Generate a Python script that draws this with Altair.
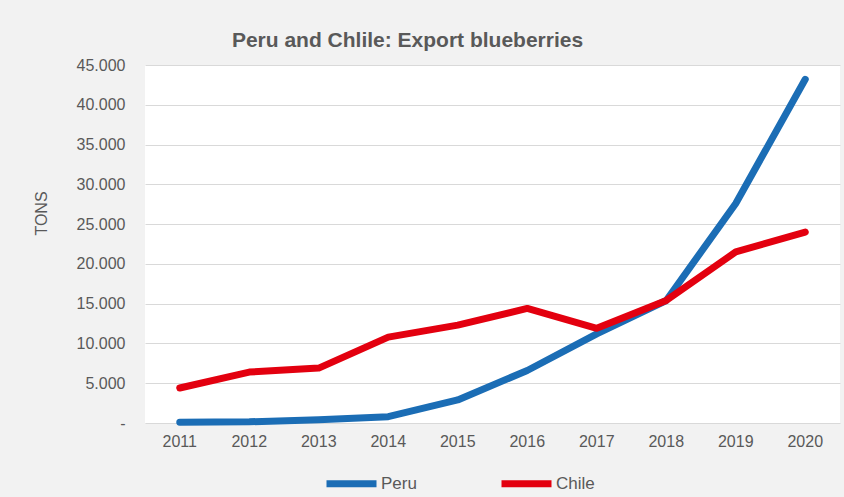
import altair as alt
import pandas as pd

years = ["2011", "2012", "2013", "2014", "2015", "2016", "2017", "2018", "2019", "2020"]
peru = [100, 150, 400, 800, 2900, 6600, 11200, 15400, 27600, 43200]
chile = [4400, 6400, 6900, 10800, 12300, 14400, 11900, 15400, 21500, 24000]
series = ["Peru", "Chile"]
colors = ["#1b6db5", "#e3000f"]
y_ticks = [0, 5000, 10000, 15000, 20000, 25000, 30000, 35000, 40000, 45000]

rows = []
for name, vals in zip(series, [peru, chile]):
    for yr, v in zip(years, vals):
        rows.append({"Year": yr, "Tons": v, "Country": name})
df = pd.DataFrame(rows)

FONT = "Liberation Sans"
GREY = "#595959"

chart = alt.Chart(df).mark_line(strokeWidth=7, strokeCap="round", strokeJoin="round").encode(
    x=alt.X("Year:O", sort=years,
            scale=alt.Scale(type="band", paddingInner=0, paddingOuter=0),
            axis=alt.Axis(title=None, labelAngle=0, ticks=False, domain=False, grid=False,
                          labelPadding=10, labelFontSize=16, labelColor=GREY, labelFont=FONT)),
    y=alt.Y("Tons:Q", scale=alt.Scale(domain=[0, 45000], nice=False),
            axis=alt.Axis(title="TONS", values=y_ticks, ticks=False, domain=False,
                          gridColor="#d9d9d9", gridWidth=1,
                          labelExpr="datum.value == 0 ? '-' : replace(format(datum.value, ','), ',', '.')",
                          labelPadding=20, labelFontSize=16, labelColor=GREY, labelFont=FONT,
                          titleFont=FONT, titleFontSize=16, titleFontWeight="normal", titleColor=GREY,
                          titleX=-96, titleY=148, titleAlign="center", titleAngle=-90)),
    color=alt.Color("Country:N", sort=series,
                    scale=alt.Scale(domain=series, range=colors),
                    legend=alt.Legend(title=None, orient="none", legendX=178, legendY=390,
                                      direction="horizontal", columns=2, columnPadding=70,
                                      symbolType="stroke", symbolSize=2500, symbolStrokeWidth=7,
                                      labelOffset=1, labelFontSize=17, labelColor=GREY, labelFont=FONT)),
    detail="Country:N",
).properties(
    width=695,
    height=358,
    padding={"left": 145, "top": 65, "right": 4, "bottom": 74},
    autosize=alt.AutoSizeParams(type="none"),
    background="#f2f2f2",
    title=alt.TitleParams("Peru and Chlile: Export blueberries", font=FONT, fontSize=21,
                          fontWeight="bold", color=GREY, anchor="middle", dx=-85, offset=6),
).configure_view(fill="white", stroke=None)

chart.save("out.html", embed_options={"renderer": "svg", "actions": False})
